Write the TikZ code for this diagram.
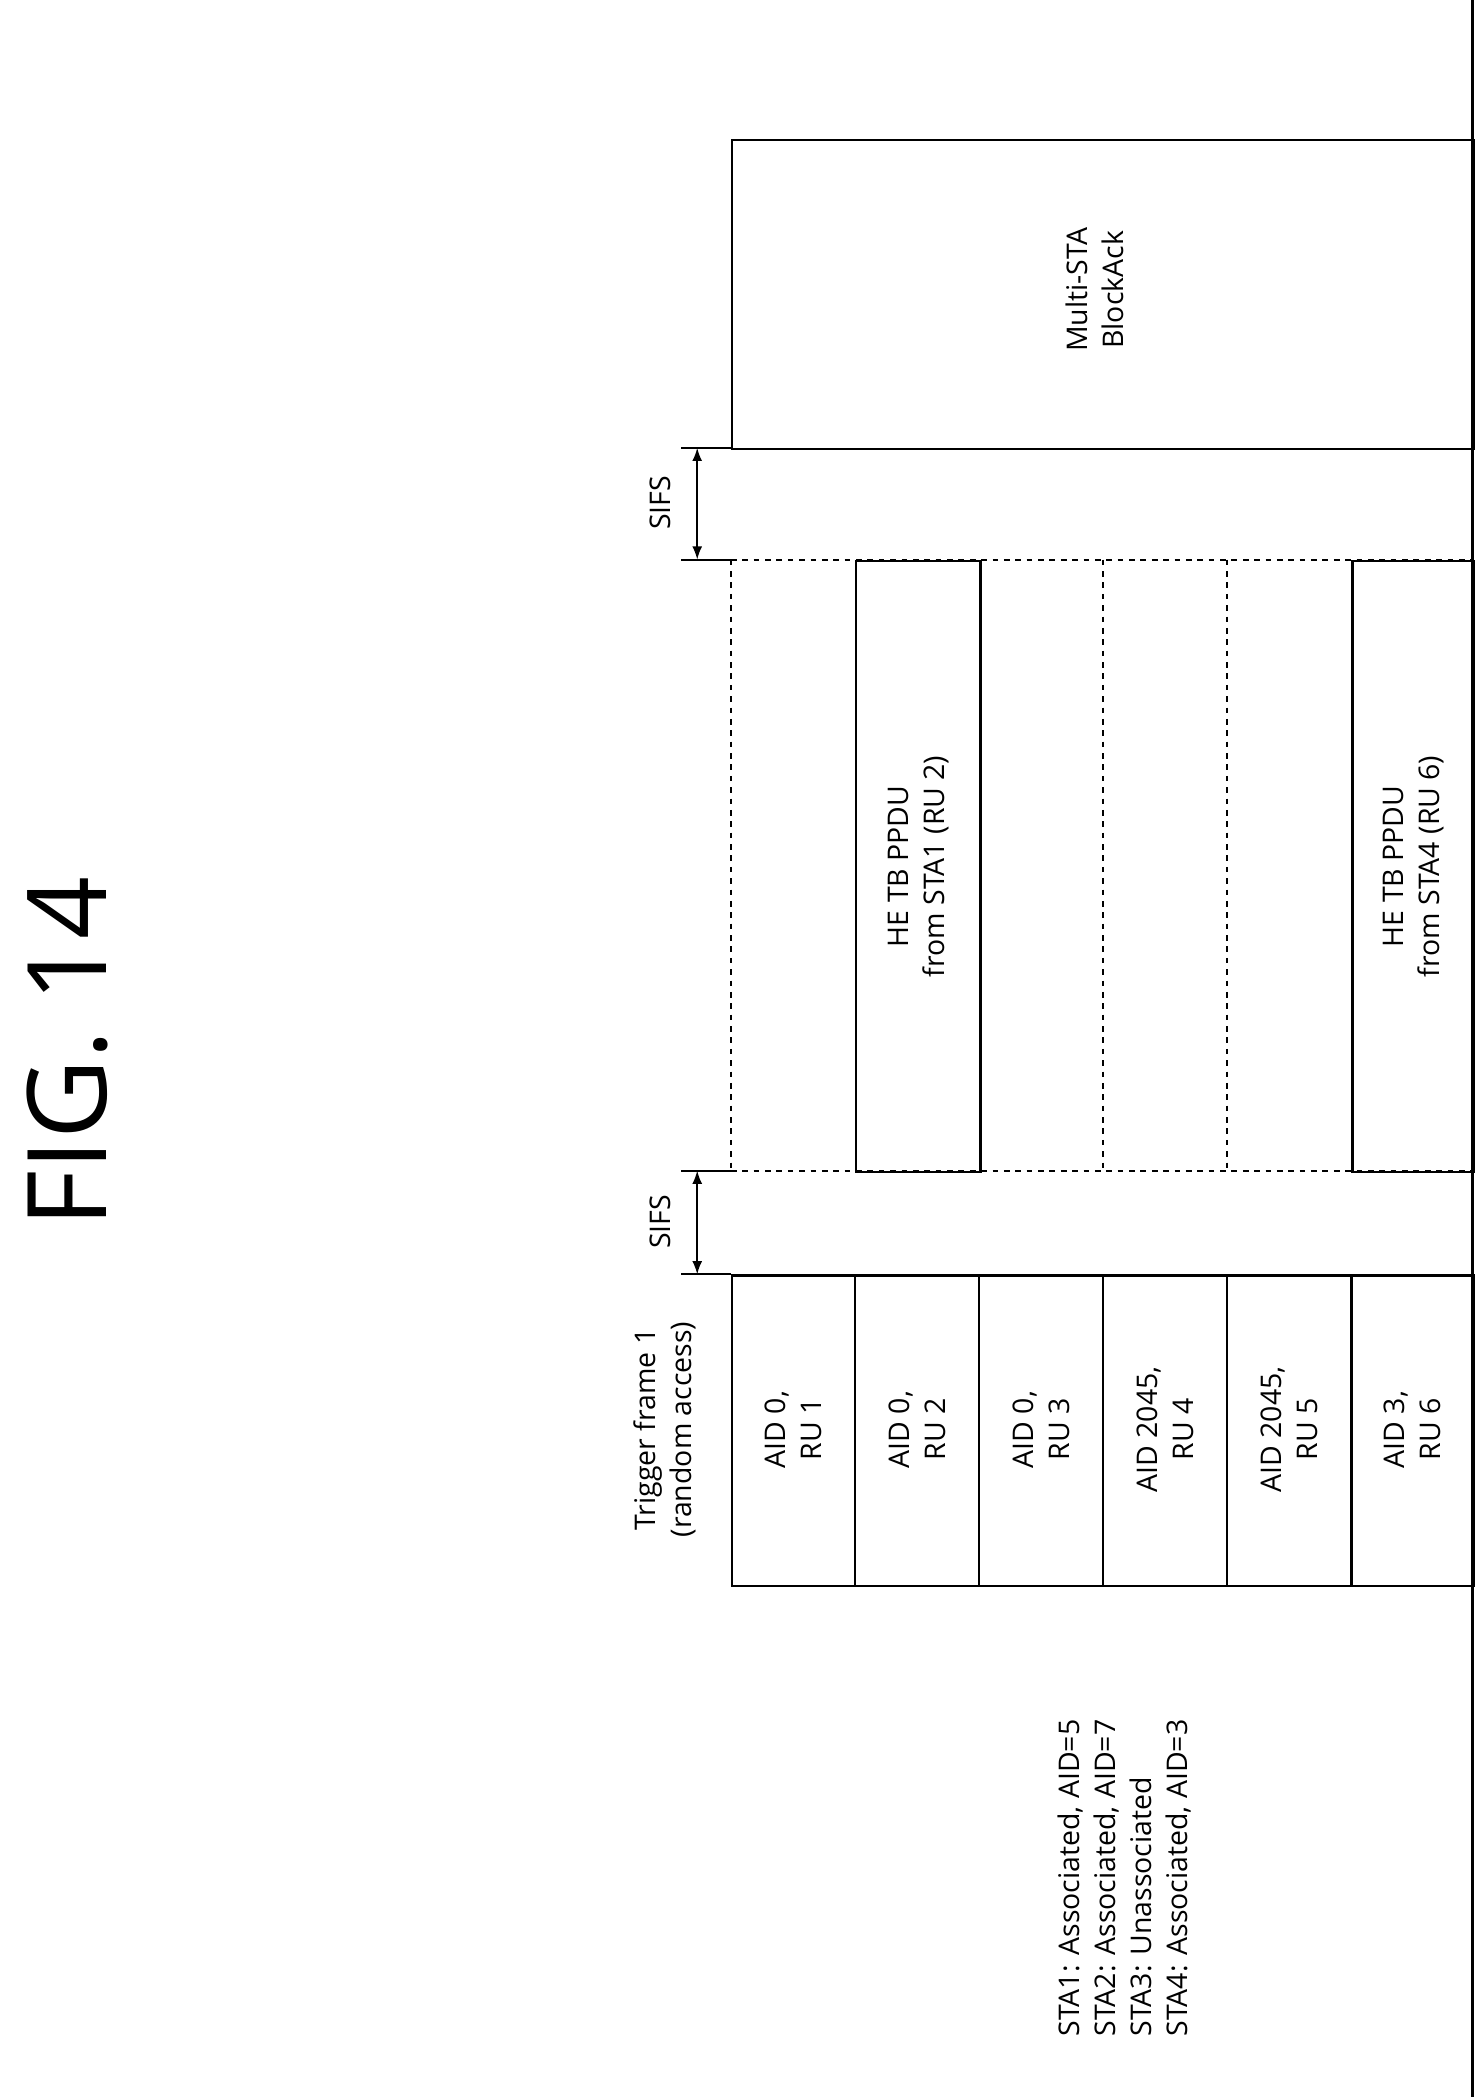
\documentclass[tikz,border=0pt]{standalone}
\usepackage{fontspec}
\setmainfont{Open Sans}
\usetikzlibrary{arrows.meta}
\begin{document}
\begin{tikzpicture}[x=0.25mm,y=-0.25mm,
  box/.style={draw,line width=1.3pt},
  lbl/.style={rotate=90,align=center,font=\fontsize{15}{19}\selectfont},
  dsh/.style={draw,line width=1pt,dashed}]
\useasboundingbox (0,0) rectangle (1100,1555);
% time axis
\draw[line width=1.5pt] (1092,0) coordinate (ax1) -- (1092,1555) coordinate (ax2);
% title
\node[rotate=90,font=\fontsize{58}{60}\selectfont] (title) at (50,780) {FIG. 14};
% trigger frame
\node[box,minimum width=550*0.25mm,minimum height=230*0.25mm,anchor=north west,inner sep=0] (tf) at (542,945) {};
\foreach \x in {634,726,818,910,1002} \draw[line width=1.3pt] (\x,945) -- (\x,1175);
\node[lbl] (t1) at (588,1060) {AID 0,\\RU 1};
\node[lbl] (t2) at (680,1060) {AID 0,\\RU 2};
\node[lbl] (t3) at (772,1060) {AID 0,\\RU 3};
\node[lbl] (t4) at (864,1060) {AID 2045,\\RU 4};
\node[lbl] (t5) at (956,1060) {AID 2045,\\RU 5};
\node[lbl] (t6) at (1047,1060) {AID 3,\\RU 6};
\node[lbl] (tft) at (493,1060) {Trigger frame 1\\(random access)};
% STA list
\node[lbl,align=left,anchor=south west] (sta) at (888,1515) {STA1: Associated, AID=5\\STA2: Associated, AID=7\\STA3: Unassociated\\STA4: Associated, AID=3};
% SIFS 1
\coordinate (s1a) at (505,945); \coordinate (s1b) at (542,945);
\coordinate (s1c) at (505,868); \coordinate (s1d) at (542,868);
\draw[line width=1pt] (s1a) -- (s1b); \draw[line width=1pt] (s1c) -- (s1d);
\draw[{Latex[length=7pt]}-{Latex[length=7pt]},line width=1pt] (517,868) -- (517,945);
\node[lbl] (sifs1) at (490,906) {SIFS};
% PPDU region
\draw[dsh] (542,415) -- (1092,415);
\draw[dsh] (542,868) -- (1092,868);
\draw[dsh] (542,415) -- (542,868);
\draw[dsh] (818,415) -- (818,868);
\draw[dsh] (910,415) -- (910,868);
\node[box,minimum width=92*0.25mm,minimum height=453*0.25mm,anchor=north west,inner sep=0] (p1) at (634,415) {};
\node[box,minimum width=90*0.25mm,minimum height=453*0.25mm,anchor=north west,inner sep=0] (p4) at (1002,415) {};
\node[lbl] at (p1.center) {HE TB PPDU\\from STA1 (RU 2)};
\node[lbl] at (p4.center) {HE TB PPDU\\from STA4 (RU 6)};
% SIFS 2
\coordinate (s2a) at (505,415); \coordinate (s2b) at (542,415);
\coordinate (s2c) at (505,332); \coordinate (s2d) at (542,332);
\draw[line width=1pt] (s2a) -- (s2b); \draw[line width=1pt] (s2c) -- (s2d);
\draw[{Latex[length=7pt]}-{Latex[length=7pt]},line width=1pt] (517,332) -- (517,415);
\node[lbl] (sifs2) at (490,373) {SIFS};
% Block ack
\node[box,minimum width=550*0.25mm,minimum height=229*0.25mm,anchor=north west,inner sep=0] (ba) at (542,103) {};
\node[lbl] (bat) at (812,215) {Multi-STA\\BlockAck};
\end{tikzpicture}
\end{document}
